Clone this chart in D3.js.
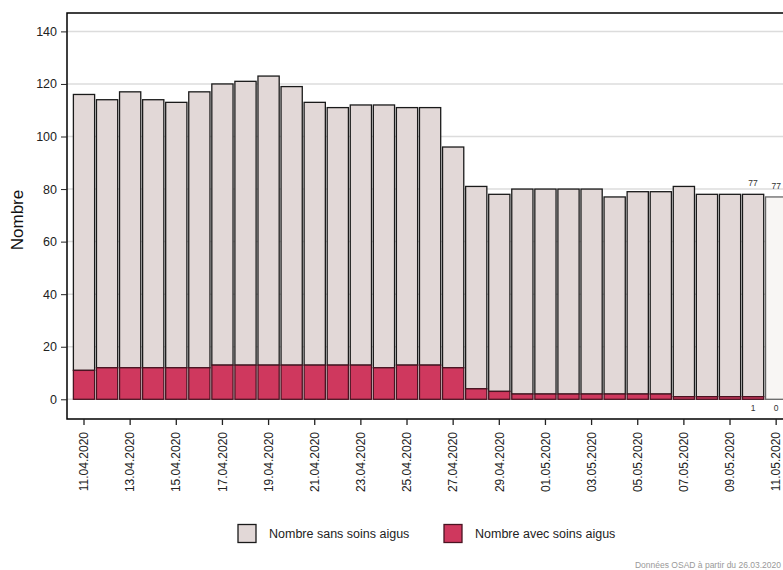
<!DOCTYPE html>
<html><head><meta charset="utf-8">
<script src="https://cdn.jsdelivr.net/npm/d3@7"></script>
<style>body{margin:0;background:#fff;} svg{display:block;font-family:"Liberation Sans",Arial,sans-serif;}</style>
</head><body>
<svg id="c" width="783" height="570"></svg>
<script>
const dates = ["11.04.2020","12.04.2020","13.04.2020","14.04.2020","15.04.2020","16.04.2020","17.04.2020","18.04.2020","19.04.2020","20.04.2020","21.04.2020","22.04.2020","23.04.2020","24.04.2020","25.04.2020","26.04.2020","27.04.2020","28.04.2020","29.04.2020","30.04.2020","01.05.2020","02.05.2020","03.05.2020","04.05.2020","05.05.2020","06.05.2020","07.05.2020","08.05.2020","09.05.2020","10.05.2020","11.05.2020"];
const avecSoins = [11,12,12,12,12,12,13,13,13,13,13,13,13,12,13,13,12,4,3,2,2,2,2,2,2,2,1,1,1,1,0];
const sansSoins = [105,102,105,102,101,105,107,108,110,106,100,98,99,100,98,98,84,77,75,78,78,78,78,75,77,77,80,77,77,77,77];
const yTicks = [0,20,40,60,80,100,120,140];
const labelledDays = ["10.05.2020","11.05.2020"];
const provisionalDays = ["11.05.2020"];
const legendLabels = ["Nombre sans soins aigus","Nombre avec soins aigus"];

const svg = d3.select("#c");
const pLeft = 67, pTop = 13, pBottom = 419;
const x = d3.scaleBand().domain(dates).range([72.47, 787.7]).paddingInner(0.08).paddingOuter(0.04);
const y = d3.scaleLinear().domain([-7.5, 147]).range([pBottom, pTop]);

// gridlines
svg.append("g").selectAll("line").data(yTicks).join("line")
  .attr("x1", pLeft).attr("x2", 800).attr("y1", d=>y(d)).attr("y2", d=>y(d))
  .attr("stroke", "#dcdcdc").attr("stroke-width", 1.5);

const data = dates.map((d,i)=>({date:d, avec:avecSoins[i], sans:sansSoins[i]}));
const g = svg.append("g");
data.forEach(d=>{
  const prov = provisionalDays.includes(d.date);
  const total = d.avec + d.sans;
  g.append("rect").attr("x", x(d.date)).attr("width", x.bandwidth())
    .attr("y", y(total)).attr("height", y(d.avec) - y(total))
    .attr("fill", prov ? "#f8f6f4" : "#e2d8d7").attr("stroke", prov ? "#666" : "#1a1a1a").attr("stroke-width", 1.3);
  if (d.avec > 0) {
    g.append("rect").attr("x", x(d.date)).attr("width", x.bandwidth())
      .attr("y", y(d.avec)).attr("height", y(0) - y(d.avec))
      .attr("fill", "#cf385e").attr("stroke", "#4a1422").attr("stroke-width", 1.3);
  }
  if (labelledDays.includes(d.date)) {
    g.append("text").attr("x", x(d.date)+x.bandwidth()/2).attr("y", y(total)-8)
      .attr("text-anchor","middle").attr("font-size", 8.5).attr("fill","#333").text(d.sans);
    g.append("text").attr("x", x(d.date)+x.bandwidth()/2).attr("y", 411)
      .attr("text-anchor","middle").attr("font-size", 8.5).attr("fill","#333").text(d.avec);
  }
});

// frame
svg.append("path").attr("d", `M800,${pTop}H${pLeft}V${pBottom}H800`).attr("fill","none").attr("stroke","#000").attr("stroke-width",1.5);

// y axis
const ya = svg.append("g").attr("transform", `translate(${pLeft},0)`)
  .call(d3.axisLeft(y).tickValues(yTicks).tickSize(6).tickPadding(4));
ya.select(".domain").remove();
ya.selectAll("text").attr("font-size", 12.5).attr("fill","#222").attr("font-family","Liberation Sans, Arial, sans-serif");
ya.selectAll("line").attr("stroke","#222");

// x axis
const xa = svg.append("g").attr("transform", `translate(0,${pBottom})`)
  .call(d3.axisBottom(x).tickValues(dates.filter((d,i)=>i%2===0)).tickSize(6));
xa.select(".domain").remove();
xa.selectAll("line").attr("stroke","#222").attr("stroke-width",1.3);
xa.selectAll("text").attr("font-size", 12).attr("fill","#222").attr("font-family","Liberation Sans, Arial, sans-serif")
  .attr("text-anchor","end").attr("transform","rotate(-90)").attr("x", -13).attr("y", 0).attr("dy","0.35em");

// y title
svg.append("text").attr("transform","translate(23,220) rotate(-90)").attr("text-anchor","middle")
  .attr("font-size", 17).attr("fill","#111").text("Nombre");

// legend
const leg = [{x:238, fill:"#e2d8d7", stroke:"#1a1a1a"},{x:444, fill:"#cf385e", stroke:"#4a1422"}];
leg.forEach((l,i)=>{
  svg.append("rect").attr("x", l.x).attr("y", 524.5).attr("width",18).attr("height",18)
    .attr("fill", l.fill).attr("stroke", l.stroke).attr("stroke-width",1.3);
  svg.append("text").attr("x", l.x+31).attr("y", 538).attr("font-size",12.5).attr("fill","#222").text(legendLabels[i]);
});

// footer
svg.append("text").attr("x", 781).attr("y", 568).attr("text-anchor","end").attr("font-size", 8.5)
  .attr("fill","#999").text("Données OSAD à partir du 26.03.2020");
</script>
</body></html>
